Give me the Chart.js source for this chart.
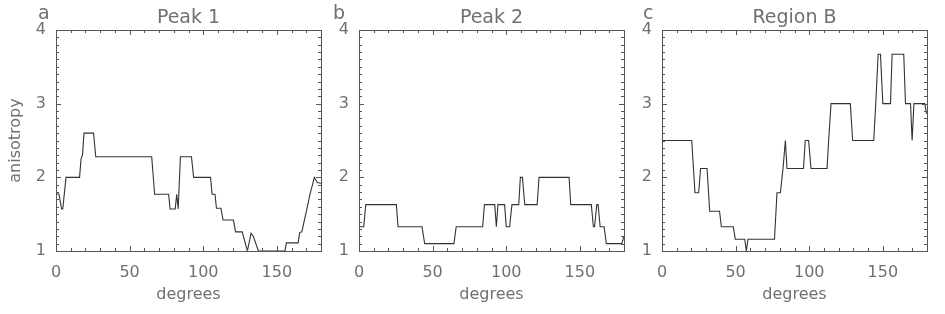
<!DOCTYPE html>
<html>
<head>
<meta charset="utf-8">
<script src="https://cdn.jsdelivr.net/npm/chart.js@4.4.1/dist/chart.umd.min.js"></script>
<style>
  html, body { margin: 0; padding: 0; background: #fff; }
  #wrap { position: relative; width: 945px; height: 314px; overflow: hidden; }
  .panel { position: absolute; top: 0; width: 325px; height: 314px; }
</style>
</head>
<body>
<div id="wrap">
  <div class="panel" style="left:0px"><canvas id="chartA"></canvas></div>
  <div class="panel" style="left:303px"><canvas id="chartB"></canvas></div>
  <div class="panel" style="left:606px"><canvas id="chartC"></canvas></div>
</div>
<script>
// Panel a - Peak 1
const degA = [0, 2, 3.8, 4.6, 6.8, 16, 17, 18, 19, 25.5, 27, 65, 67, 76.5, 77.5, 81, 82, 83, 84.5,
  92, 93.5, 105, 106, 108, 109, 112, 113.5, 120.5, 122, 126.5, 130, 132.5, 134, 137.5,
  155.5, 156.5, 164.5, 165.5, 167, 168.5, 170.5, 172.5, 175.5, 177.5, 180];
const anisoA = [1.78, 1.77, 1.57, 1.57, 2.0, 2.0, 2.25, 2.3, 2.6, 2.6, 2.28, 2.28, 1.77, 1.77, 1.57, 1.57, 1.77, 1.57, 2.28,
  2.28, 2.0, 2.0, 1.77, 1.77, 1.58, 1.58, 1.42, 1.42, 1.26, 1.26, 1.0, 1.24, 1.2, 1.0,
  1.0, 1.11, 1.11, 1.25, 1.26, 1.4, 1.58, 1.77, 2.0, 1.93, 1.92];

// Panel b - Peak 2
const degB = [0, 3.2, 4.6, 25.4, 26.5, 42.8, 44.6, 64.5, 66, 84, 85.2, 92.2, 93.3, 94.4, 98.9, 100,
  102.3, 103.9, 108.5, 109.6, 111, 112.6, 121, 122.3, 142.7, 143.8, 157.8, 159.2, 160, 161.5,
  162.4, 163.8, 166.5, 168, 178.5, 180];
const anisoB = [1.33, 1.33, 1.63, 1.63, 1.33, 1.33, 1.1, 1.1, 1.33, 1.33, 1.63, 1.63, 1.33, 1.63, 1.63, 1.33,
  1.33, 1.63, 1.63, 2.0, 2.0, 1.63, 1.63, 2.0, 2.0, 1.63, 1.63, 1.33, 1.33, 1.63,
  1.63, 1.33, 1.33, 1.1, 1.1, 1.2];

// Panel c - Region B
const degC = [0, 20.2, 22.4, 24.9, 26.2, 30.6, 32.4, 39.1, 40.3, 48.4, 49.8, 56.2, 57.3, 58.4, 76.4,
  78.1, 80.4, 82.2, 83.8, 84.9, 96.1, 97.3, 99.6, 101.2, 112.1, 113.2, 114.8, 127.9, 129.5,
  143.8, 145.2, 146.8, 148.4, 150, 155.2, 156.3, 164.2, 165.4, 168.8, 169.9, 171.1, 178.5, 179.6, 180];
const anisoC = [2.5, 2.5, 1.79, 1.79, 2.12, 2.12, 1.54, 1.54, 1.33, 1.33, 1.16, 1.16, 1.0, 1.16, 1.16,
  1.79, 1.79, 2.12, 2.5, 2.12, 2.12, 2.5, 2.5, 2.12, 2.12, 2.5, 3.0, 3.0, 2.5,
  2.5, 3.0, 3.67, 3.67, 3.0, 3.0, 3.67, 3.67, 3.0, 3.0, 2.5, 3.0, 3.0, 2.87, 2.87];

const xTicks = [0, 50, 100, 150];
const yTicks = [1, 2, 3, 4];

const FONT = '"DejaVu Sans ExtraLight", "DejaVu Sans", sans-serif';
const TEXT = '#707070';
const AXIS = '#555';

// box, inward minor/major ticks on all sides, panel title and letter
const panelDecor = {
    id: 'panelDecor',
    afterDraw(chart, args, opts) {
        const { ctx, chartArea: a, scales: { x, y } } = chart;
        ctx.save();
        ctx.strokeStyle = AXIS;
        ctx.lineWidth = 1;
        ctx.strokeRect(Math.round(a.left) + 0.5, Math.round(a.top) + 0.5,
            Math.round(a.right - a.left), Math.round(a.bottom - a.top));
        ctx.beginPath();
        for (let d = 0; d <= 180; d += 10) {
            const px = Math.round(x.getPixelForValue(d)) + 0.5;
            const len = d % 50 === 0 ? 5 : 3;
            ctx.moveTo(px, a.bottom); ctx.lineTo(px, a.bottom - len);
            ctx.moveTo(px, a.top); ctx.lineTo(px, a.top + len);
        }
        for (let i = 10; i <= 40; i++) {
            const py = Math.round(y.getPixelForValue(i / 10)) + 0.5;
            const len = i % 10 === 0 ? 5 : 3;
            ctx.moveTo(a.left, py); ctx.lineTo(a.left + len, py);
            ctx.moveTo(a.right, py); ctx.lineTo(a.right - len, py);
        }
        ctx.stroke();

        ctx.fillStyle = TEXT;
        ctx.font = '19px ' + FONT;
        ctx.textBaseline = 'alphabetic';
        ctx.textAlign = 'center';
        ctx.fillText(opts.title, (a.left + a.right) / 2, 22.5);
        ctx.textAlign = 'left';
        ctx.fillText(opts.letter, a.left + opts.letterDx, 18.5);
        ctx.restore();
    }
};

function makePanel(id, degs, vals, title, letter, letterDx, showYTitle) {
    return new Chart(document.getElementById(id), {
        type: 'line',
        data: {
            datasets: [{
                data: degs.map((d, i) => ({ x: d, y: vals[i] })),
                borderColor: '#333',
                borderWidth: 1.1,
                pointRadius: 0,
                fill: false,
                tension: 0
            }]
        },
        options: {
            responsive: true,
            maintainAspectRatio: false,
            animation: false,
            layout: { padding: { top: 30, right: 4, left: 0, bottom: 0 } },
            plugins: {
                legend: { display: false },
                tooltip: { enabled: false },
                panelDecor: { title, letter, letterDx }
            },
            scales: {
                x: {
                    type: 'linear',
                    min: 0,
                    max: 180,
                    afterFit: s => { s.height = 63; },
                    afterBuildTicks: s => { s.ticks = xTicks.map(v => ({ value: v })); },
                    grid: { display: false, drawTicks: false },
                    border: { display: false },
                    ticks: { color: TEXT, font: { family: FONT, size: 16 }, padding: 12, maxRotation: 0, autoSkip: false },
                    title: {
                        display: true, text: 'degrees', color: TEXT,
                        font: { family: FONT, size: 16 }, padding: { top: 0, bottom: 10 }
                    }
                },
                y: {
                    type: 'linear',
                    min: 1,
                    max: 4,
                    afterFit: s => { s.width = 56; },
                    afterBuildTicks: s => { s.ticks = yTicks.map(v => ({ value: v })); },
                    grid: { display: false, drawTicks: false },
                    border: { display: false },
                    ticks: { color: TEXT, font: { family: FONT, size: 16 }, padding: 10, autoSkip: false },
                    title: {
                        display: showYTitle, text: 'anisotropy', color: TEXT,
                        font: { family: FONT, size: 16 }, padding: { top: 6, bottom: 0 }
                    }
                }
            }
        },
        plugins: [panelDecor]
    });
}

makePanel('chartA', degA, anisoA, 'Peak 1', 'a', -18, true);
makePanel('chartB', degB, anisoB, 'Peak 2', 'b', -26, false);
makePanel('chartC', degC, anisoC, 'Region B', 'c', -19, false);
</script>
</body>
</html>
